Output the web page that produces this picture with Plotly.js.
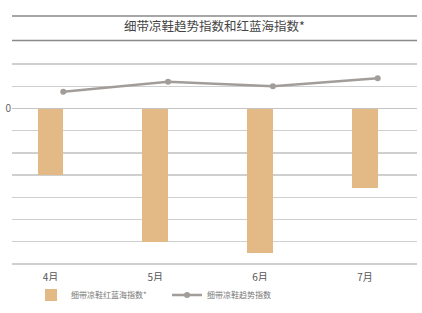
<!DOCTYPE html>
<html>
<head>
<meta charset="utf-8">
<script src="https://cdn.plot.ly/plotly-3.0.1.min.js"></script>
<style>html,body{margin:0;padding:0;background:#fff;}#chart{width:422px;height:313px;}</style>
</head>
<body>
<div id="chart"></div>
<script>
const categories = ["4月", "5月", "6月", "7月"];
const redBlueIndex = [-3.0, -6.0, -6.5, -3.6];
const trendIndex = [0.75, 1.2, 1.0, 1.36];
const yTickVals = [-7, -6, -5, -4, -3, -2, -1, 0, 1, 2];
const yTickText = ["", "", "", "", "", "", "", "0", "", ""];
const titleText = "细带凉鞋趋势指数和红蓝海指数*";
const barName = "细带凉鞋红蓝海指数*";
const lineName = "细带凉鞋趋势指数";

const font = "'Noto Sans CJK SC', 'Noto Sans', sans-serif";

const traces = [
  {
    type: "bar",
    x: categories,
    y: redBlueIndex,
    name: barName,
    width: 0.245,
    marker: {color: "#e3ba86"},
    hoverinfo: "none"
  },
  {
    type: "scatter",
    mode: "lines+markers",
    x: categories,
    y: trendIndex,
    xaxis: "x2",
    name: lineName,
    line: {color: "#a39d99", width: 2.5},
    marker: {color: "#a39d99", size: 6},
    hoverinfo: "none"
  }
];

const layout = {
  width: 422,
  height: 313,
  margin: {l: 12, r: 5, t: 63, b: 47},
  paper_bgcolor: "#fff",
  plot_bgcolor: "#fff",
  font: {family: font, color: "#555"},
  title: {
    text: titleText,
    font: {family: font, size: 12.5, color: "#444"},
    x: 0.508, xanchor: "center",
    y: 0.915, yanchor: "middle", yref: "container"
  },
  xaxis: {
    type: "category",
    range: [-0.367, 3.497],
    showgrid: false,
    showline: false,
    zeroline: false,
    ticks: "",
    ticklabelstandoff: 5,
    tickfont: {family: font, size: 10, color: "#555"}
  },
  xaxis2: {
    type: "category",
    overlaying: "x",
    range: [-0.489, 3.375],
    showgrid: false,
    showline: false,
    zeroline: false,
    showticklabels: false,
    ticks: ""
  },
  yaxis: {
    range: [-7.05, 2.05],
    tickvals: yTickVals,
    ticktext: yTickText,
    showgrid: true,
    gridcolor: "#cfcfcf",
    gridwidth: 1.5,
    zeroline: true,
    zerolinecolor: "#c4c4c4",
    zerolinewidth: 1.5,
    showline: false,
    ticks: "",
    tickfont: {family: font, size: 10, color: "#666"}
  },
  shapes: [
    {type: "line", xref: "paper", yref: "paper", x0: 0, x1: 1, y0: 1.233, y1: 1.233, line: {color: "#8a8a8a", width: 1.5}},
    {type: "line", xref: "paper", yref: "paper", x0: 0, x1: 1, y0: 1.112, y1: 1.112, line: {color: "#8a8a8a", width: 1.5}}
  ],
  showlegend: true,
  legend: {
    orientation: "h",
    x: 0.047, xanchor: "left",
    y: -0.143, yanchor: "middle",
    font: {family: font, size: 8, color: "#777"},
    itemwidth: 30,
    entrywidth: 91,
    traceorder: "normal"
  },
  bargap: 0
};

Plotly.newPlot("chart", traces, layout, {displayModeBar: false, staticPlot: true});
</script>
</body>
</html>
